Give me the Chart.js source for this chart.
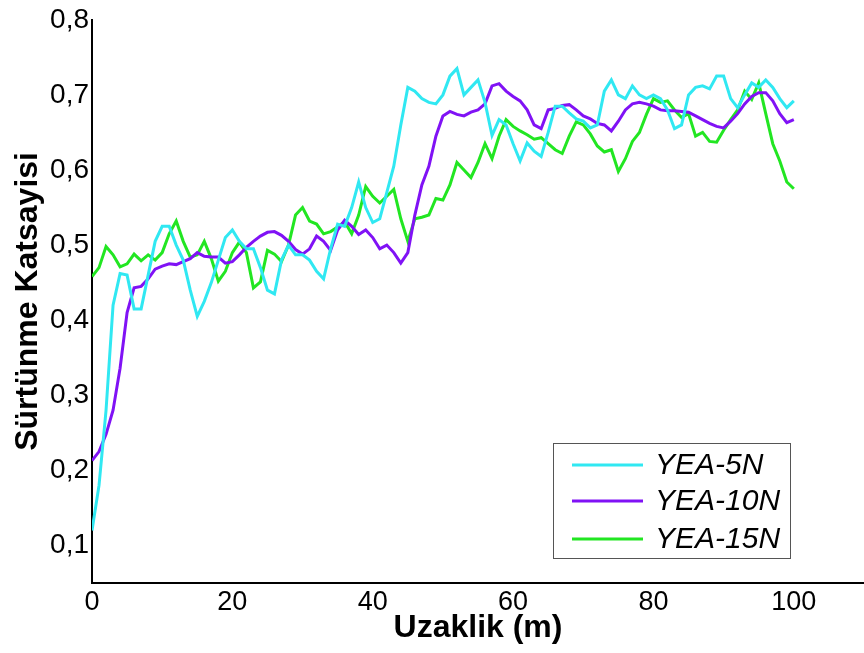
<!DOCTYPE html>
<html>
<head>
<meta charset="utf-8">
<script src="https://cdn.jsdelivr.net/npm/chart.js@4/dist/chart.umd.min.js"></script>
<style>
  html, body { margin: 0; padding: 0; background: #fff; }
  #wrap { width: 864px; height: 653px; }
</style>
</head>
<body>
<div id="wrap"><canvas id="c" width="864" height="653"></canvas></div>
<script>
// Sliding distance (m), one reading per metre
const distance = Array.from({ length: 101 }, (_, i) => i);

const seriesNames = ['YEA-5N', 'YEA-10N', 'YEA-15N'];

// Friction coefficient, YEA-5N
const yea5N = [
  0.12, 0.18, 0.28, 0.42, 0.462, 0.46, 0.415, 0.415, 0.46, 0.505,
  0.525, 0.525, 0.50, 0.48, 0.44, 0.405, 0.425, 0.45, 0.48, 0.51,
  0.52, 0.505, 0.495, 0.495, 0.47, 0.44, 0.435, 0.48, 0.50, 0.487,
  0.487, 0.48, 0.465, 0.455, 0.495, 0.528, 0.525, 0.55, 0.584, 0.55,
  0.53, 0.535, 0.57, 0.605, 0.66, 0.71, 0.705, 0.695, 0.69, 0.688,
  0.70, 0.725, 0.735, 0.70, 0.71, 0.72, 0.69, 0.646, 0.667, 0.66,
  0.635, 0.612, 0.636, 0.625, 0.618, 0.65, 0.685, 0.685, 0.676, 0.668,
  0.665, 0.656, 0.66, 0.705, 0.72, 0.70, 0.695, 0.712, 0.70, 0.695,
  0.70, 0.695, 0.68, 0.655, 0.66, 0.70, 0.71, 0.712, 0.708, 0.725,
  0.725, 0.695, 0.683, 0.70, 0.716, 0.71, 0.72, 0.71, 0.695, 0.683,
  0.692
];

// Friction coefficient, YEA-10N
const yea10N = [
  0.213, 0.225, 0.248, 0.28, 0.336, 0.41, 0.443, 0.445, 0.455, 0.468,
  0.472, 0.475, 0.474, 0.478, 0.482, 0.49, 0.485, 0.484, 0.484, 0.476,
  0.478, 0.487, 0.497, 0.505, 0.512, 0.517, 0.518, 0.513, 0.505, 0.494,
  0.488, 0.495, 0.512, 0.505, 0.493, 0.52, 0.533, 0.525, 0.514, 0.52,
  0.51, 0.495, 0.50, 0.49, 0.476, 0.49, 0.54, 0.58, 0.605, 0.645,
  0.672, 0.678, 0.674, 0.672, 0.677, 0.68, 0.688, 0.712, 0.715, 0.705,
  0.698, 0.692, 0.68, 0.66, 0.655, 0.68, 0.682, 0.686, 0.687, 0.68,
  0.672, 0.668, 0.662, 0.66, 0.652, 0.665, 0.68, 0.688, 0.69, 0.688,
  0.685, 0.68, 0.679, 0.679, 0.678, 0.677, 0.672, 0.667, 0.662, 0.658,
  0.656, 0.665, 0.675, 0.688, 0.698, 0.703, 0.703, 0.692, 0.675, 0.663,
  0.667
];

// Friction coefficient, YEA-15N
const yea15N = [
  0.458, 0.47, 0.498, 0.487, 0.471, 0.475, 0.488, 0.479, 0.487, 0.48,
  0.49, 0.515, 0.532, 0.505, 0.484, 0.487, 0.505, 0.482, 0.452, 0.465,
  0.49, 0.504, 0.49, 0.443, 0.451, 0.493, 0.488, 0.478, 0.50, 0.54,
  0.55, 0.532, 0.528, 0.515, 0.518, 0.524, 0.531, 0.515, 0.54, 0.578,
  0.565, 0.556, 0.565, 0.574, 0.535, 0.505, 0.535, 0.537, 0.54, 0.562,
  0.56, 0.58, 0.61, 0.60, 0.59, 0.61, 0.635, 0.615, 0.645, 0.667,
  0.658, 0.652, 0.647, 0.641, 0.643, 0.635, 0.627, 0.622, 0.645, 0.664,
  0.66, 0.648, 0.632, 0.624, 0.627, 0.598, 0.615, 0.638, 0.65, 0.674,
  0.695, 0.69, 0.692, 0.68, 0.67, 0.675, 0.645, 0.65, 0.638, 0.637,
  0.653, 0.667, 0.68, 0.705, 0.694, 0.716, 0.675, 0.635, 0.612, 0.584,
  0.575
];

// Axis tick values
const xTicks = [0, 20, 40, 60, 80, 100];
const yTicks = [0.1, 0.2, 0.3, 0.4, 0.5, 0.6, 0.7, 0.8];

const lineColors = ['#30E8F2', '#8012F5', '#22E622'];

const toPoints = (ys) => ys.map((v, i) => ({ x: distance[i], y: v }));

// Legend box drawn inside the plot area
const boxLegend = {
  id: 'boxLegend',
  afterDatasetsDraw(chart) {
    const { ctx } = chart;
    const x0 = 553, y0 = 443, w = 237, h = 115;
    ctx.save();
    ctx.fillStyle = '#fff';
    ctx.fillRect(x0, y0, w, h);
    ctx.strokeStyle = '#555';
    ctx.lineWidth = 1;
    ctx.strokeRect(x0 + 0.5, y0 + 0.5, w, h);
    ctx.font = 'italic 30px "Liberation Sans", Arial, sans-serif';
    ctx.textBaseline = 'middle';
    const rows = [465, 501, 539];
    chart.data.datasets.forEach((ds, i) => {
      const y = rows[i];
      ctx.strokeStyle = ds.borderColor;
      ctx.lineWidth = 3;
      ctx.beginPath();
      ctx.moveTo(572, y);
      ctx.lineTo(643, y);
      ctx.stroke();
      ctx.fillStyle = '#000';
      ctx.fillText(ds.label, 655, y + 1);
    });
    ctx.restore();
  }
};

new Chart(document.getElementById('c'), {
  type: 'line',
  data: {
    datasets: [yea5N, yea10N, yea15N].map((ys, i) => ({
      label: seriesNames[i],
      data: toPoints(ys),
      borderColor: lineColors[i],
      backgroundColor: lineColors[i],
      borderWidth: 3,
      pointRadius: 0,
      tension: 0,
      fill: false
    }))
  },
  options: {
    responsive: false,
    animation: false,
    layout: { padding: { top: 16, right: 0, bottom: 0, left: 0 } },
    plugins: { legend: { display: false }, tooltip: { enabled: false } },
    scales: {
      x: {
        type: 'linear',
        min: 0,
        max: 110,
        grid: { display: false, drawTicks: false },
        border: { display: true, color: '#000', width: 2 },
        afterBuildTicks: (s) => { s.ticks = xTicks.map(v => ({ value: v })); },
        afterFit: (s) => { s.height = 70; },
        ticks: {
          color: '#000',
          padding: 3,
          maxRotation: 0,
          autoSkip: false,
          font: { family: '"Liberation Sans Narrow", "Liberation Sans", Arial, sans-serif', size: 27 }
        },
        title: {
          display: true,
          text: 'Uzaklik (m)',
          color: '#000',
          padding: { top: 6, bottom: 6 },
          font: { family: '"Liberation Sans", Arial, sans-serif', size: 32, weight: 'bold' }
        }
      },
      y: {
        type: 'linear',
        min: 0.05,
        max: 0.8,
        grid: { display: false, drawTicks: false },
        border: { display: true, color: '#000', width: 2 },
        afterBuildTicks: (s) => { s.ticks = yTicks.map(v => ({ value: v })); },
        afterFit: (s) => { s.width = 92; },
        ticks: {
          color: '#000',
          padding: 3,
          autoSkip: false,
          font: { family: '"Liberation Sans", Arial, sans-serif', size: 28 },
          callback: (v) => v.toFixed(1).replace('.', ',')
        },
        title: {
          display: true,
          text: 'Sürtünme Katsayisi',
          color: '#000',
          padding: { top: 9, bottom: 9 },
          font: { family: '"Liberation Sans", Arial, sans-serif', size: 32, weight: 'bold' }
        }
      }
    }
  },
  plugins: [boxLegend]
});
</script>
</body>
</html>
